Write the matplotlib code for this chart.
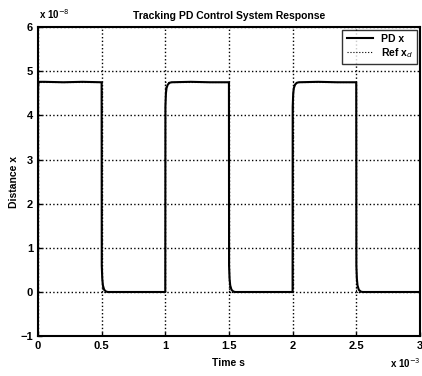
import matplotlib
matplotlib.use("Agg")
import matplotlib.pyplot as plt

# time in ms (x 10^-3 s), distance in units of 1e-8
t_pd = [0.0, 0.0005, 0.002, 0.005, 0.01, 0.02, 0.05, 0.2, 0.35, 0.5,
        0.501, 0.505, 0.51, 0.52, 0.535, 0.55, 0.7, 1.0,
        1.001, 1.005, 1.01, 1.02, 1.035, 1.05, 1.2, 1.35, 1.5,
        1.501, 1.505, 1.51, 1.52, 1.535, 1.55, 1.8, 2.0,
        2.001, 2.005, 2.01, 2.02, 2.035, 2.05, 2.2, 2.35, 2.5,
        2.501, 2.505, 2.51, 2.52, 2.535, 2.55, 2.8, 3.0]
x_pd = [0.0, 4.5, 4.68, 4.74, 4.76, 4.76, 4.76, 4.75, 4.76, 4.75,
        0.6, 0.3, 0.15, 0.05, 0.01, 0.0, 0.0, 0.0,
        4.2, 4.5, 4.62, 4.7, 4.74, 4.75, 4.76, 4.75, 4.75,
        0.6, 0.3, 0.15, 0.05, 0.01, 0.0, 0.0, 0.0,
        4.2, 4.5, 4.62, 4.7, 4.74, 4.75, 4.76, 4.75, 4.75,
        0.6, 0.3, 0.15, 0.05, 0.01, 0.0, 0.0, 0.0]
t_ref = [0.0, 0.0, 0.5, 0.5, 1.0, 1.0, 1.5, 1.5, 2.0, 2.0, 2.5, 2.5, 3.0]
x_ref = [0.0, 4.75, 4.75, 0.0, 0.0, 4.75, 4.75, 0.0, 0.0, 4.75, 4.75, 0.0, 0.0]

xticks = [0, 0.5, 1, 1.5, 2, 2.5, 3]
xtick_labels = ["0", "0.5", "1", "1.5", "2", "2.5", "3"]
yticks = [-1, 0, 1, 2, 3, 4, 5, 6]

plt.rcParams['font.family'] = ['Liberation Sans', 'DejaVu Sans']

fig = plt.figure(figsize=(4.22, 3.76), dpi=100)
ax = fig.add_axes([0.090, 0.106, 0.905, 0.822])

ax.plot(t_pd, x_pd, color='black', lw=1.5, label='PD x')
ax.plot(t_ref, x_ref, color='black', lw=0.8, ls=':', label='Ref x$_d$')

ax.set_xlim(0, 3)
ax.set_ylim(-1, 6)
ax.set_xticks(xticks)
ax.set_xticklabels(xtick_labels)
ax.set_yticks(yticks)
ax.tick_params(direction='in', length=3, labelsize=8, width=1)
for lab in ax.get_xticklabels() + ax.get_yticklabels():
    lab.set_fontweight('bold')
ax.grid(True, color='black', ls=':', lw=1.0)
for s in ax.spines.values():
    s.set_linewidth(1.5)

ax.set_title('Tracking PD Control System Response', fontsize=7.5, fontweight='bold', pad=6)
ax.set_xlabel('Time s', fontsize=7.5, fontweight='bold', labelpad=5)
ax.set_ylabel('Distance x', fontsize=7.5, fontweight='bold', labelpad=1)

fig.text(0.092, 0.945, 'x 10$^{-8}$', fontsize=7, fontweight='bold', ha='left', va='bottom')
fig.text(0.997, 0.015, 'x 10$^{-3}$', fontsize=7, fontweight='bold', ha='right', va='bottom')

leg = ax.legend(loc='upper right', fontsize=7.5, frameon=True, fancybox=False,
                edgecolor='black', handlelength=2.5, borderaxespad=0.25,
                labelspacing=0.2)
leg.get_frame().set_linewidth(1.0)
for txt in leg.get_texts():
    txt.set_fontweight('bold')

fig.savefig('out.png', dpi=100)
